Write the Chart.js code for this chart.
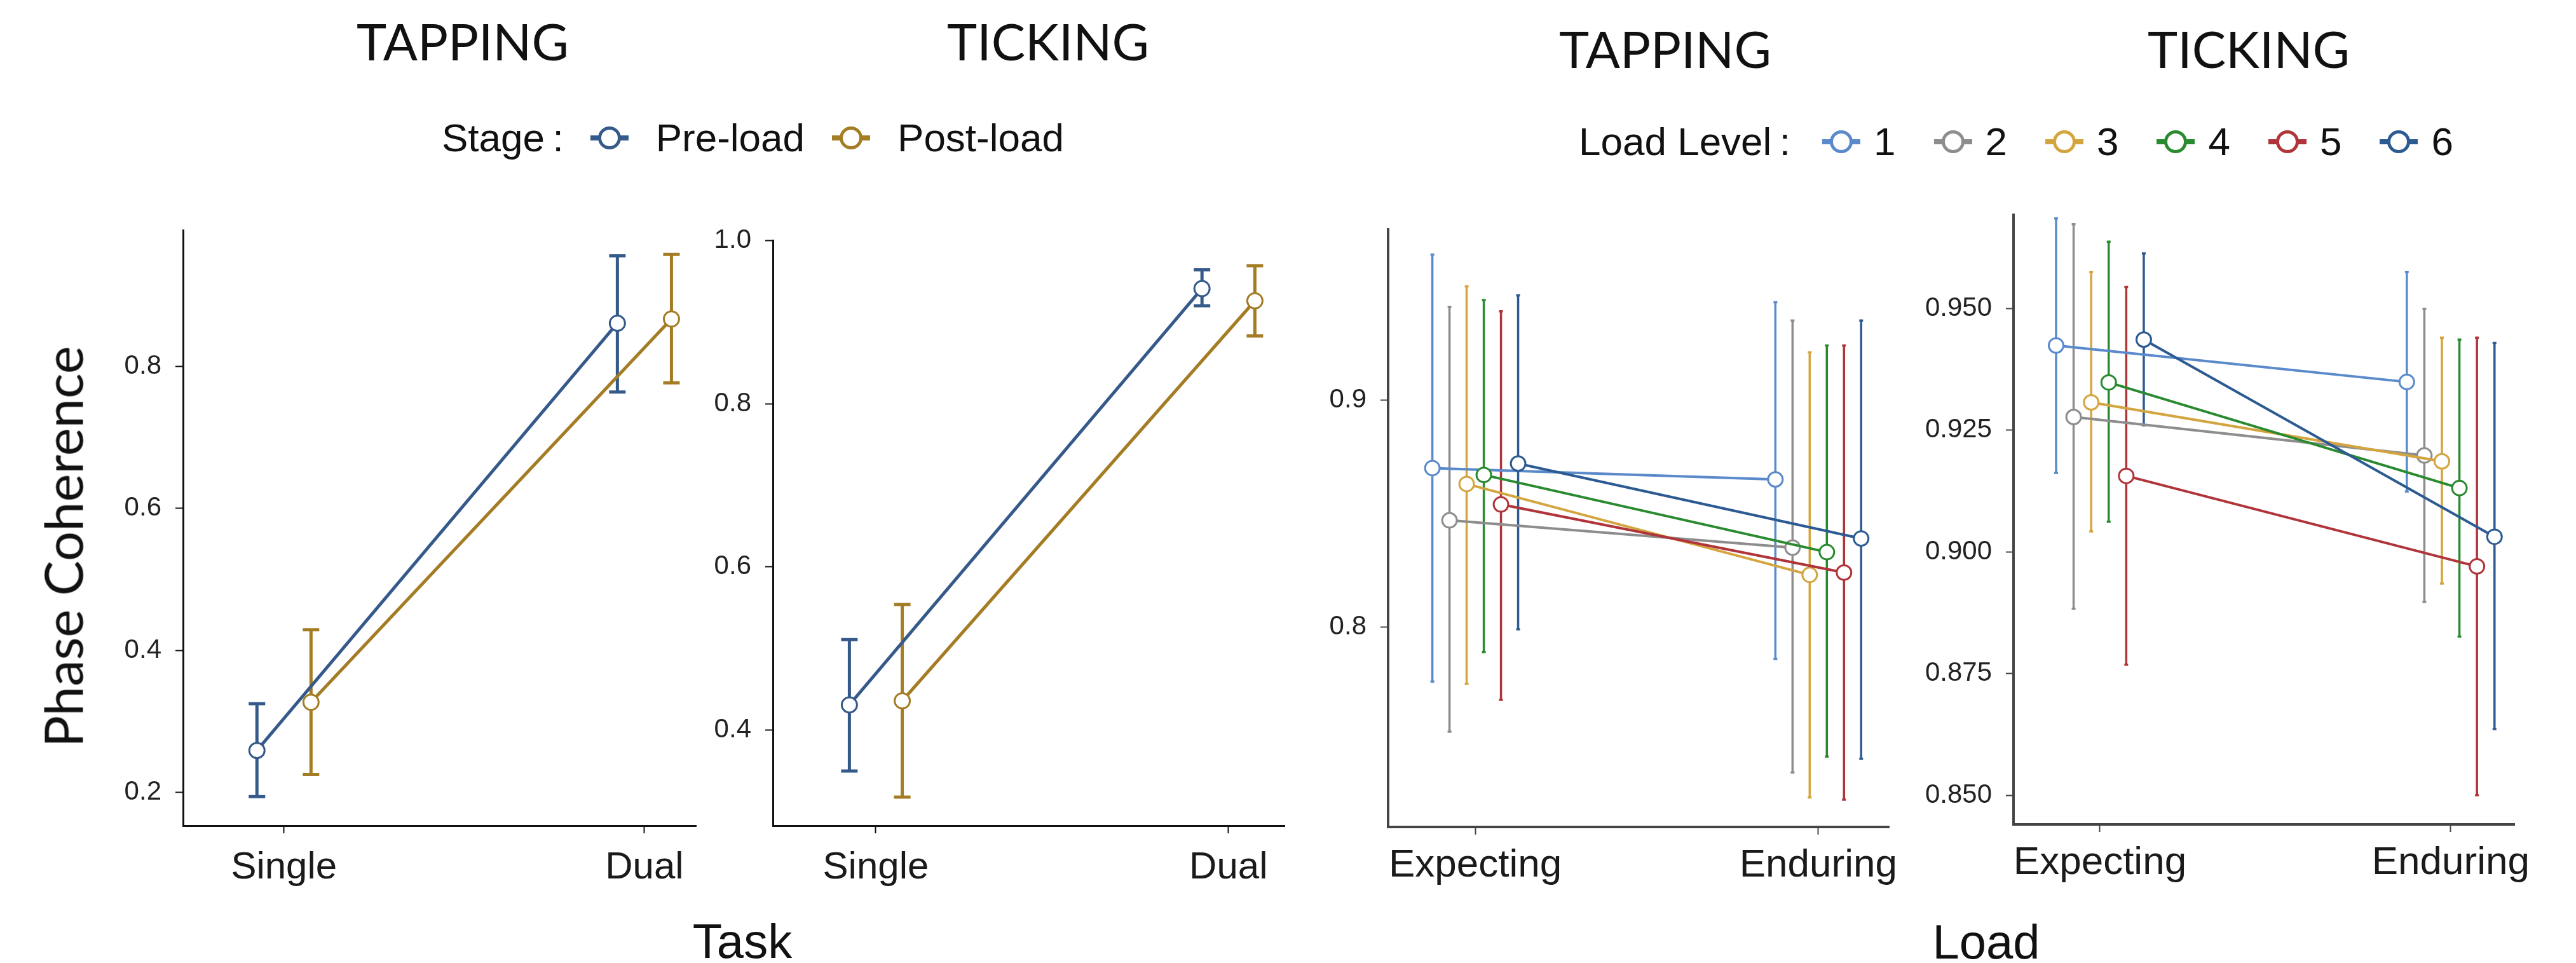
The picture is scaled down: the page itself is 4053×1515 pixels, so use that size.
<!DOCTYPE html>
<html>
<head>
<meta charset="utf-8">
<title>Phase Coherence</title>
<script src="https://cdn.jsdelivr.net/npm/chart.js@4.4.1/dist/chart.umd.min.js"></script>
<style>
  html, body { margin: 0; padding: 0; background: #fff; }
  body { position: relative; width: 4053px; height: 1515px; overflow: hidden;
         font-family: "Liberation Sans", Arial, sans-serif; color: #111; }
  canvas { position: absolute; }
  .txt { position: absolute; white-space: nowrap; }
  .legend { position: absolute; display: flex; align-items: center; height: 80px;
            line-height: 80px; white-space: nowrap; font-size: 62px; color: #111; }
  .mk { position: relative; display: inline-block; width: 60px; height: 36px; flex: none; }
  .mk::before { content: ''; position: absolute; left: 0; right: 0; top: 14px; height: 8px; background: var(--c); }
  .mk::after { content: ''; position: absolute; left: 12px; top: 0; width: 26px; height: 26px;
               border: 5px solid var(--c); border-radius: 50%; background: #fff; }
</style>
</head>
<body>
<script>
// ---- data ----
const taskCategories = ['Single', 'Dual'];
const loadCategories = ['Expecting', 'Enduring'];
const stageNames = ['Pre-load', 'Post-load'];
const loadLevels = ['1', '2', '3', '4', '5', '6'];

// TAPPING, Task x Stage
const tapPreMean = [0.259, 0.861];
const tapPreLow = [0.194, 0.764];
const tapPreHigh = [0.325, 0.956];
const tapPostMean = [0.327, 0.867];
const tapPostLow = [0.225, 0.777];
const tapPostHigh = [0.429, 0.958];

// TICKING, Task x Stage
const tickPreMean = [0.431, 0.941];
const tickPreLow = [0.350, 0.920];
const tickPreHigh = [0.511, 0.964];
const tickPostMean = [0.436, 0.926];
const tickPostLow = [0.318, 0.883];
const tickPostHigh = [0.554, 0.969];

// TAPPING, Load x Load Level (rows = level 1..6, cols = Expecting, Enduring)
const tapLoadMean = [[0.870, 0.865], [0.847, 0.835], [0.863, 0.823], [0.867, 0.833], [0.854, 0.824], [0.872, 0.839]];
const tapLoadLow = [[0.776, 0.786], [0.754, 0.736], [0.775, 0.725], [0.789, 0.743], [0.768, 0.724], [0.799, 0.742]];
const tapLoadHigh = [[0.964, 0.943], [0.941, 0.935], [0.950, 0.921], [0.944, 0.924], [0.939, 0.924], [0.946, 0.935]];

// TICKING, Load x Load Level
const tickLoadMean = [[0.9424, 0.9349], [0.9277, 0.9198], [0.9307, 0.9186], [0.9348, 0.9131], [0.9156, 0.8970], [0.9436, 0.9031]];
const tickLoadLow = [[0.9162, 0.9124], [0.8883, 0.8897], [0.9042, 0.8935], [0.9062, 0.8826], [0.8768, 0.8500], [0.9260, 0.8636]];
const tickLoadHigh = [[0.9685, 0.9575], [0.9673, 0.9499], [0.9575, 0.9440], [0.9637, 0.9436], [0.9544, 0.9440], [0.9613, 0.9429]];

// y tick labels
const tapTaskTicks = [0.2, 0.4, 0.6, 0.8];
const tickTaskTicks = [0.4, 0.6, 0.8, 1.0];
const tapLoadTicks = [0.8, 0.9];
const tickLoadTicks = [0.850, 0.875, 0.900, 0.925, 0.950];

// ---- styling ----
const stageColors = ['#355a8a', '#a47c24'];
const levelColors = ['#5a8acb', '#8d8d8d', '#d4a53f', '#2a8a30', '#b0353a', '#2c5a92'];

Chart.defaults.font.family = '"Liberation Sans", Arial, sans-serif';

// vertical error bars, drawn under lines and points
const errorBars = {
  id: 'errorBars',
  beforeDatasetsDraw(chart, args, opts) {
    const ctx = chart.ctx;
    const xs = chart.scales.x, ys = chart.scales.y;
    ctx.save();
    ctx.lineWidth = opts.width;
    chart.data.datasets.forEach(ds => {
      ctx.strokeStyle = ds.borderColor;
      ds.data.forEach(p => {
        const px = xs.getPixelForValue(p.x);
        const top = ys.getPixelForValue(p.hi);
        const bot = ys.getPixelForValue(p.lo);
        ctx.beginPath();
        ctx.moveTo(px, top); ctx.lineTo(px, bot);
        ctx.moveTo(px - opts.cap, top); ctx.lineTo(px + opts.cap, top);
        ctx.moveTo(px - opts.cap, bot); ctx.lineTo(px + opts.cap, bot);
        ctx.stroke();
      });
    });
    ctx.restore();
  }
};

function drawPanel(area, opt) {
  const YW = 170, XH = 140, PAD = 40;
  const cv = document.createElement('canvas');
  cv.width = area.r - area.l + YW + PAD;
  cv.height = area.b - area.t + PAD + XH;
  cv.style.left = (area.l - YW) + 'px';
  cv.style.top = (area.t - PAD) + 'px';
  document.body.appendChild(cv);

  const n = opt.series.length;
  const datasets = opt.series.map((s, i) => {
    const off = (i - (n - 1) / 2) * opt.dodge;
    return {
      label: s.name,
      data: s.mean.map((m, k) => ({ x: k + 1 + off, y: m, lo: s.lo[k], hi: s.hi[k] })),
      borderColor: s.color,
      borderWidth: opt.lineWidth,
      pointRadius: opt.pointRadius,
      pointBackgroundColor: '#fff',
      pointBorderColor: s.color,
      pointBorderWidth: 3,
      tension: 0,
      clip: false,
      order: n - i
    };
  });

  new Chart(cv, {
    type: 'line',
    data: { datasets },
    plugins: [errorBars],
    options: {
      responsive: false,
      animation: false,
      events: [],
      layout: { padding: { top: PAD, right: PAD, left: 0, bottom: 0 } },
      plugins: {
        legend: { display: false },
        tooltip: { enabled: false },
        errorBars: { width: opt.barWidth, cap: opt.cap }
      },
      scales: {
        x: {
          type: 'linear',
          min: opt.xMin, max: opt.xMax,
          afterBuildTicks: a => { a.ticks = opt.cats.map((c, k) => ({ value: k + 1 })); },
          afterFit: a => { a.height = XH; },
          ticks: {
            callback: v => opt.cats[Math.round(v) - 1],
            font: { size: opt.xFont }, color: '#1a1a1a',
            padding: opt.xPad, maxRotation: 0, autoSkip: false
          },
          grid: { drawOnChartArea: false, drawTicks: true, tickLength: 12, tickWidth: 2, tickColor: opt.axisColor },
          border: { display: true, color: opt.axisColor, width: opt.axisWidth }
        },
        y: {
          type: 'linear',
          min: opt.yMin, max: opt.yMax,
          afterBuildTicks: a => { a.ticks = opt.yTicks.map(v => ({ value: v })); },
          afterFit: a => { a.width = YW; },
          ticks: {
            callback: v => v.toFixed(opt.decimals),
            font: { size: 42 }, color: '#222', padding: 22
          },
          grid: { drawOnChartArea: false, drawTicks: true, tickLength: 12, tickWidth: 2, tickColor: opt.axisColor },
          border: { display: true, color: opt.axisColor, width: opt.axisWidth }
        }
      }
    }
  });
}

function stageSeries(means, lows, highs) {
  return stageNames.map((name, i) => ({ name, color: stageColors[i], mean: means[i], lo: lows[i], hi: highs[i] }));
}
function levelSeries(means, lows, highs) {
  return loadLevels.map((name, i) => ({ name, color: levelColors[i], mean: means[i], lo: lows[i], hi: highs[i] }));
}

const taskStyle = { cats: taskCategories, dodge: 0.15, lineWidth: 5, pointRadius: 12, barWidth: 5, cap: 13,
  xFont: 60, xPad: 18, axisColor: '#111', axisWidth: 3 };
const loadStyle = { cats: loadCategories, dodge: 0.05, lineWidth: 4, pointRadius: 11.5, barWidth: 3.5, cap: 3,
  xFont: 62, xPad: 12, axisColor: '#444', axisWidth: 4 };

drawPanel({ l: 288, t: 355, r: 1095, b: 1299 }, Object.assign({}, taskStyle, {
  series: stageSeries([tapPreMean, tapPostMean], [tapPreLow, tapPostLow], [tapPreHigh, tapPostHigh]),
  yTicks: tapTaskTicks, decimals: 1, yMin: 0.153, yMax: 0.992, xMin: 0.72, xMax: 2.143
}));
drawPanel({ l: 1216, t: 371, r: 2021, b: 1299 }, Object.assign({}, taskStyle, {
  series: stageSeries([tickPreMean, tickPostMean], [tickPreLow, tickPostLow], [tickPreHigh, tickPostHigh]),
  yTicks: tickTaskTicks, decimals: 1, yMin: 0.283, yMax: 1.0, xMin: 0.708, xMax: 2.159
}));
drawPanel({ l: 2184, t: 354, r: 2972, b: 1301 }, Object.assign({}, loadStyle, {
  series: levelSeries(tapLoadMean, tapLoadLow, tapLoadHigh),
  yTicks: tapLoadTicks, decimals: 1, yMin: 0.712, yMax: 0.975, xMin: 0.746, xMax: 2.206
}));
drawPanel({ l: 3168, t: 331, r: 3957, b: 1297 }, Object.assign({}, loadStyle, {
  series: levelSeries(tickLoadMean, tickLoadLow, tickLoadHigh),
  yTicks: tickLoadTicks, decimals: 3, yMin: 0.844, yMax: 0.9692, xMin: 0.7536, xMax: 2.183
}));

// ---- text ----
// baseline offset (line-height = font size) for each family
const BASE = { lato: 0.887, sans: 0.8465 };
const FAM = { lato: 'Lato, "Liberation Sans", sans-serif', sans: '"Liberation Sans", Arial, sans-serif' };

function addText(str, cx, baseline, size, fam) {
  const d = document.createElement('div');
  d.className = 'txt';
  d.textContent = str;
  d.style.fontFamily = FAM[fam];
  d.style.fontSize = size + 'px';
  d.style.lineHeight = size + 'px';
  d.style.left = cx + 'px';
  d.style.top = (baseline - BASE[fam] * size) + 'px';
  d.style.transform = 'translateX(-50%)';
  document.body.appendChild(d);
  return d;
}

addText('TAPPING', 728, 95, 80, 'lato');
addText('TICKING', 1649, 95, 80, 'lato');
addText('TAPPING', 2620, 107, 80, 'lato');
addText('TICKING', 3538, 107, 80, 'lato');
addText('Task', 1168, 1507, 76, 'sans');
addText('Load', 3125, 1508, 76, 'sans');

// rotated y title
const yt = document.createElement('div');
yt.className = 'txt';
yt.textContent = 'Phase Coherence';
yt.style.fontFamily = FAM.lato;
yt.style.fontSize = '83px';
yt.style.lineHeight = '83px';
yt.style.left = '99px';
yt.style.top = '860px';
yt.style.transform = 'translate(-50%, -50%) rotate(-90deg)';
document.body.appendChild(yt);

// legends
function addLegend(title, names, colors, left, cy, gaps) {
  const lg = document.createElement('div');
  lg.className = 'legend';
  lg.style.left = left + 'px';
  lg.style.top = (cy - 40) + 'px';
  const t = document.createElement('span');
  t.textContent = title;
  t.style.marginRight = gaps.title + 'px';
  lg.appendChild(t);
  names.forEach((name, i) => {
    const mk = document.createElement('span');
    mk.className = 'mk';
    mk.style.setProperty('--c', colors[i]);
    mk.style.marginRight = gaps.marker + 'px';
    lg.appendChild(mk);
    const s = document.createElement('span');
    s.textContent = name;
    s.style.marginRight = gaps.item + 'px';
    lg.appendChild(s);
  });
  document.body.appendChild(lg);
}

addLegend('Stage\u2009:', stageNames, stageColors, 695, 217, { title: 42, marker: 43, item: 43 });
addLegend('Load Level\u2009:', loadLevels, levelColors, 2484, 223, { title: 50, marker: 21, item: 60 });
</script>
</body>
</html>
